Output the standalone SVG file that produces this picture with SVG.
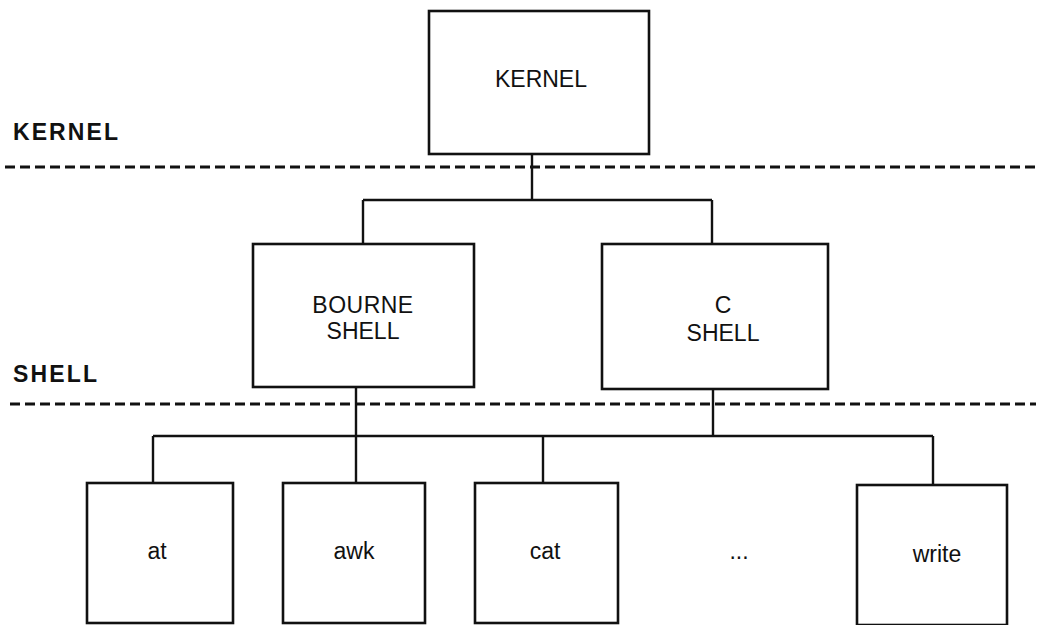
<svg xmlns="http://www.w3.org/2000/svg" width="1042" height="625" viewBox="0 0 1042 625">
<style>
.box{fill:#fff;stroke:#111;stroke-width:2.6}
.ln{fill:none;stroke:#111;stroke-width:2.4}
.dash{fill:none;stroke:#111;stroke-width:3;stroke-dasharray:10 5}
.t{font-family:"Liberation Sans",Arial,sans-serif;font-size:23px;fill:#111;text-anchor:middle}
.lbl{font-family:"Liberation Sans",Arial,sans-serif;font-size:23px;font-weight:bold;fill:#111}
</style>
<rect width="1042" height="625" fill="#fff"/>
<g id="layers">
<line class="dash" x1="5" y1="167" x2="1036" y2="167"/>
<line class="dash" x1="10" y1="404" x2="1036" y2="404"/>
<text class="lbl" x="13" y="140" textLength="105" lengthAdjust="spacing">KERNEL</text>
<text class="lbl" x="13" y="382" textLength="84" lengthAdjust="spacing">SHELL</text>
</g>
<g id="connectors">
<path class="ln" d="M532 154 V200 M363 200 H712 M363 200 V244 M712 200 V244"/>
<path class="ln" d="M356 387 V483 M713 389 V436 M153 436 H933 M153 436 V483 M543 436 V483 M933 436 V485"/>
</g>
<g id="kernel"><rect class="box" x="429" y="11" width="220" height="143"/><text class="t" x="541" y="87">KERNEL</text></g>
<g id="bourne"><rect class="box" x="253" y="244" width="221" height="143"/><text class="t" x="363" y="313" letter-spacing="0.5">BOURNE</text><text class="t" x="363" y="339">SHELL</text></g>
<g id="cshell"><rect class="box" x="602" y="244" width="226" height="145"/><text class="t" x="723" y="313">C</text><text class="t" x="723" y="341">SHELL</text></g>
<g id="at"><rect class="box" x="87" y="483" width="146" height="140"/><text class="t" x="157" y="559">at</text></g>
<g id="awk"><rect class="box" x="283" y="483" width="142" height="140"/><text class="t" x="354" y="559">awk</text></g>
<g id="cat"><rect class="box" x="475" y="483" width="143" height="140"/><text class="t" x="545" y="559">cat</text></g>
<g id="ellipsis"><text class="t" x="739" y="559">...</text></g>
<g id="write"><rect class="box" x="857" y="485" width="150" height="140"/><text class="t" x="937" y="562">write</text></g>
</svg>
